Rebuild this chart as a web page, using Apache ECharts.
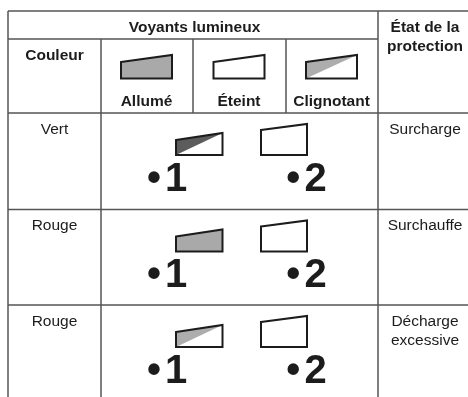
<!DOCTYPE html>
<html><head><meta charset="utf-8">
<script src="https://cdn.jsdelivr.net/npm/echarts@6/dist/echarts.min.js"></script>
<style>html,body{margin:0;padding:0;background:#fff}#c{width:468px;height:397px}</style>
</head><body><div id="c"></div>
<script>
// ---- content ----
const groupTitle = 'Voyants lumineux';
const colourTitle = 'Couleur';
const protectionTitle = ['État de la', 'protection'];
const ledStates = ['Allumé', 'Éteint', 'Clignotant'];
const rowColours = ['Vert', 'Rouge', 'Rouge'];
const protectionStates = [['Surcharge'], ['Surchauffe'], ['Décharge', 'excessive']];
const led1States = ['Clignotant', 'Allumé', 'Clignotant'];
const led2States = ['Éteint', 'Éteint', 'Éteint'];
const ledBullet = '•';
const ledNumbers = ['1', '2'];

// ---- layout / style ----
const W = 468, H = 397;
const colX = [8, 101, 193, 286, 378, 468];
const rowY = [11, 39, 113, 209.5, 305, 397];
const FONT = 'Liberation Sans';
const LINE = '#555555';
const INK = '#1c1c1c';
const GREY = '#a9a9a9';
const blinkShades = ['#5c5c5c', '#adadad', '#adadad'];
const headerBlinkShade = '#adadad';
const bulletX = [154, 293.3];
const digitX = [176, 315.5];

const segments = [
  [colX[0], rowY[0], W, rowY[0]],
  [colX[0], rowY[1], colX[4], rowY[1]],
  [colX[0], rowY[2], W, rowY[2]],
  [colX[0], rowY[3], W, rowY[3]],
  [colX[0], rowY[4], W, rowY[4]],
  [colX[0], rowY[0], colX[0], H],
  [colX[1], rowY[1], colX[1], H],
  [colX[2], rowY[1], colX[2], rowY[2]],
  [colX[3], rowY[1], colX[3], rowY[2]],
  [colX[4], rowY[0], colX[4], H]
];

function txt(api, x, y, text, bold, size, align) {
  const p = api.coord([x, y]);
  return {
    type: 'text', x: p[0], y: p[1],
    style: {
      text: text,
      fontFamily: FONT,
      fontSize: size,
      fontWeight: bold ? 'bold' : 'normal',
      fill: INK,
      textAlign: align || 'center', align: align || 'center',
      textVerticalAlign: 'middle', verticalAlign: 'middle'
    }
  };
}

function icon(api, x0, x1, yTL, yTR, yB, state, shade) {
  const P = (x, y) => api.coord([x, y]);
  const outline = [P(x0, yTL), P(x1, yTR), P(x1, yB), P(x0, yB)];
  const items = [];
  if (state === 'Allumé') {
    items.push({ type: 'polygon', shape: { points: outline }, style: { fill: shade, stroke: INK, lineWidth: 2 } });
  } else if (state === 'Éteint') {
    items.push({ type: 'polygon', shape: { points: outline }, style: { fill: '#fff', stroke: INK, lineWidth: 2 } });
  } else {
    items.push({ type: 'polygon', shape: { points: outline }, style: { fill: '#fff' } });
    items.push({ type: 'polygon', shape: { points: [P(x0, yTL), P(x0, yB), P(x1, yTR)] }, style: { fill: shade } });
    items.push({ type: 'polygon', shape: { points: outline }, style: { fill: 'none', stroke: INK, lineWidth: 2 } });
  }
  return items;
}

const option = {
  animation: false,
  backgroundColor: '#fff',
  grid: { left: 0, right: 0, top: 0, bottom: 0 },
  xAxis: { type: 'value', min: 0, max: W, show: false },
  yAxis: { type: 'value', min: 0, max: H, inverse: true, show: false },
  series: [
    {
      type: 'custom', silent: true,
      data: segments,
      encode: { x: [0, 2], y: [1, 3] },
      renderItem: function (params, api) {
        const a = api.coord([api.value(0), api.value(1)]);
        const b = api.coord([api.value(2), api.value(3)]);
        return { type: 'line', shape: { x1: a[0], y1: a[1], x2: b[0], y2: b[1] }, style: { stroke: LINE, lineWidth: 1.5 } };
      }
    },
    {
      type: 'custom', silent: true,
      data: [[0]],
      renderItem: function (params, api) {
        return { type: 'group', children: [
          txt(api, 194.5, 27.5, groupTitle, true, 15.5),
          txt(api, (colX[0] + colX[1]) / 2, 55.5, colourTitle, true, 15.5),
          txt(api, 425, 27.5, protectionTitle[0], true, 15.5),
          txt(api, 425, 46.5, protectionTitle[1], true, 15.5)
        ] };
      }
    },
    {
      type: 'custom', silent: true,
      data: ledStates.map((s, i) => [i]),
      renderItem: function (params, api) {
        const i = api.value(0);
        const cx = (colX[1 + i] + colX[2 + i]) / 2 - 0.5;
        const children = icon(api, cx - 25.5, cx + 25.5, 62, 55, 78.5, ledStates[i], ledStates[i] === 'Allumé' ? GREY : headerBlinkShade);
        children.push(txt(api, cx, 101.5, ledStates[i], true, 15.5));
        return { type: 'group', children: children };
      }
    },
    {
      type: 'custom', silent: true,
      data: rowColours.map((c, i) => [i]),
      renderItem: function (params, api) {
        const i = api.value(0);
        const top = rowY[2 + i];
        let children = [];
        children.push(txt(api, (colX[0] + colX[1]) / 2, top + 16.5, rowColours[i], false, 15.5));
        protectionStates[i].forEach((s, k) => children.push(txt(api, 425, top + 16.5 + 19.5 * k, s, false, 15.5)));
        children = children.concat(icon(api, 176, 222.5, top + 27, top + 20, top + 42, led1States[i], led1States[i] === 'Allumé' ? GREY : blinkShades[i]));
        children = children.concat(icon(api, 261, 307, top + 17, top + 11, top + 42, led2States[i], GREY));
        for (let k = 0; k < 2; k++) {
          children.push(txt(api, bulletX[k], top + 66.5, ledBullet, true, 40));
          children.push(txt(api, digitX[k], top + 66.5, ledNumbers[k], true, 40));
        }
        return { type: 'group', children: children };
      }
    }
  ]
};
const chart = echarts.init(document.getElementById('c'), null, { renderer: 'canvas' });
chart.setOption(option);
</script>
</body></html>
